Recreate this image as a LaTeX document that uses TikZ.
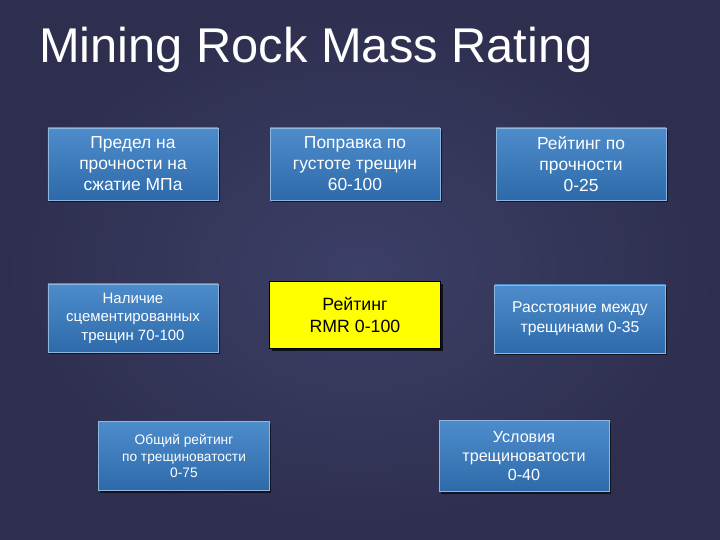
\documentclass[tikz,border=0pt]{standalone}
\usepackage{fontspec}
\setmainfont{Liberation Sans}
\usetikzlibrary{shadows}
\definecolor{bgA}{HTML}{2E2F4F}
\definecolor{bgB}{HTML}{3C3F66}
\definecolor{boxTop}{HTML}{4D8CCB}
\definecolor{boxBot}{HTML}{2E6AAA}
\definecolor{boxLine}{HTML}{8FB6DE}
\definecolor{rmr}{HTML}{FFFF00}
\tikzset{
  bluebox/.style={draw=boxLine, line width=0.6bp, top color=boxTop, bottom color=boxBot,
    text=white, align=center, inner sep=0pt, font=\fontsize{17.5}{21}\selectfont,
    drop shadow={shadow xshift=1.5bp, shadow yshift=-2bp, opacity=0.6, fill=black}},
  yellowbox/.style={draw=black, line width=1bp, fill=rmr, text=black, align=center,
    inner sep=0pt, font=\fontsize{17.8}{22}\selectfont,
    drop shadow={shadow xshift=2bp, shadow yshift=-2.5bp, opacity=0.7, fill=black}},
}
\begin{document}
\begin{tikzpicture}[x=1bp,y=-1bp]
\useasboundingbox (0,0) rectangle (720,540);
\shade[inner color=bgB, outer color=bgA] (0,0) rectangle (720,540);
\node[anchor=base west, text=white, font=\fontsize{49}{55}\selectfont, inner sep=0pt] (title) at (39,63) {Mining Rock Mass Rating};
\node[bluebox, minimum width=170bp, minimum height=72bp] (b1) at (133,164) {Предел на\\прочности на\\сжатие МПа};
\node[bluebox, minimum width=170bp, minimum height=72bp] (b2) at (355,164) {Поправка по\\густоте трещин\\60-100};
\node[bluebox, minimum width=170bp, minimum height=72bp] (b3) at (581,164) {Рейтинг по\\прочности\\0-25};
\node[bluebox, minimum width=170bp, minimum height=68bp, font=\fontsize{15}{18.5}\selectfont] (b4) at (133,318) {Наличие\\сцементированных\\трещин 70-100};
\node[yellowbox, minimum width=171bp, minimum height=66bp] (rmr) at (355,315) {Рейтинг\\RMR 0-100};
\node[bluebox, minimum width=171bp, minimum height=68bp, font=\fontsize{15.7}{20}\selectfont] (b6) at (580,319) {Расстояние между\\трещинами 0-35};
\node[bluebox, minimum width=171bp, minimum height=69bp, font=\fontsize{13.8}{17}\selectfont] (b7) at (184,456) {Общий рейтинг\\по трещиноватости\\0-75};
\node[bluebox, minimum width=170bp, minimum height=71bp, font=\fontsize{16.2}{19}\selectfont] (b8) at (524,456) {Условия\\трещиноватости\\0-40};
\end{tikzpicture}
\end{document}
